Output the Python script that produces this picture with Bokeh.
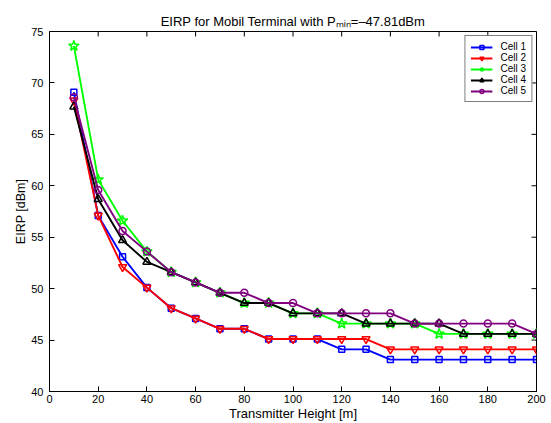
import math
from bokeh.plotting import figure
from bokeh.models import Range1d, Legend, LegendItem, FixedTicker
from bokeh.embed import file_html
from bokeh.resources import INLINE

# ---- data ----
heights = [10, 20, 30, 40, 50, 60, 70, 80, 90, 100, 110, 120, 130, 140, 150, 160, 170, 180, 190, 200]
cell1 = [69.1, 57.1, 53.1, 50.1, 48.1, 47.1, 46.1, 46.1, 45.1, 45.1, 45.1, 44.1, 44.1, 43.1, 43.1, 43.1, 43.1, 43.1, 43.1, 43.1]
cell2 = [68.3, 57.1, 52.1, 50.1, 48.1, 47.1, 46.1, 46.1, 45.1, 45.1, 45.1, 45.1, 45.1, 44.1, 44.1, 44.1, 44.1, 44.1, 44.1, 44.1]
cell3 = [73.6, 60.6, 56.6, 53.6, 51.6, 50.6, 49.6, 48.6, 48.6, 47.6, 47.6, 46.6, 46.6, 46.6, 46.6, 45.6, 45.6, 45.6, 45.6, 45.6]
cell4 = [67.7, 58.7, 54.7, 52.6, 51.6, 50.6, 49.6, 48.6, 48.6, 47.6, 47.6, 47.6, 46.6, 46.6, 46.6, 46.6, 45.6, 45.6, 45.6, 45.6]
cell5 = [68.6, 59.6, 55.6, 53.6, 51.6, 50.6, 49.6, 49.6, 48.6, 48.6, 47.6, 47.6, 47.6, 47.6, 46.6, 46.6, 46.6, 46.6, 46.6, 45.6]
series_names = ["Cell 1", "Cell 2", "Cell 3", "Cell 4", "Cell 5"]
x_ticks = [0, 20, 40, 60, 80, 100, 120, 140, 160, 180, 200]
y_ticks = [40, 45, 50, 55, 60, 65, 70, 75]
x_min, x_max = 0, 200
y_min, y_max = 40, 75
title_text = "EIRP for Mobil Terminal with P\u2098\u1d62\u2099=\u201347.81dBm"
x_label = "Transmitter Height [m]"
y_label = "EIRP [dBm]"

FONT = "Liberation Sans"

p = figure(width=551, height=423, output_backend="svg", toolbar_location=None,
           x_range=Range1d(x_min, x_max), y_range=Range1d(y_min, y_max),
           min_border_left=49, min_border_right=15, min_border_top=31, min_border_bottom=32,
           background_fill_color="white", border_fill_color="white")
p.grid.visible = False
p.outline_line_color = "black"
p.outline_line_width = 1

p.title.text = title_text
p.title.align = "center"
p.title.text_font = FONT
p.title.text_font_size = "13px"
p.title.text_font_style = "normal"
p.title.text_color = "black"
p.title.standoff = 6

def style_axis(ax, ticks, standoff):
    ax.ticker = FixedTicker(ticks=ticks)
    ax.major_tick_in = 5
    ax.major_tick_out = 0
    ax.minor_tick_in = 0
    ax.minor_tick_out = 0
    ax.axis_line_color = "black"
    ax.major_tick_line_color = "black"
    ax.major_label_text_font = FONT
    ax.major_label_text_color = "black"
    ax.major_label_text_font_size = "11px"
    ax.major_label_standoff = standoff
    ax.axis_label_text_font = FONT
    ax.axis_label_text_font_style = "normal"
    ax.axis_label_text_color = "black"

xa = p.xaxis[0]
ya = p.yaxis[0]
style_axis(xa, x_ticks, 3)
style_axis(ya, y_ticks, 6)
xa.axis_label = x_label
xa.axis_label_text_font_size = "13px"
xa.axis_label_standoff = 0
ya.axis_label = y_label
ya.axis_label_text_font_size = "12.5px"
ya.axis_label_standoff = 0

# inward ticks on the top and right edges of the box
p.ray(x=x_ticks, y=[y_max] * len(x_ticks), length=5, length_units="screen",
      angle=-math.pi / 2, line_color="black", line_width=1)
p.ray(x=[x_max] * len(y_ticks), y=y_ticks, length=5, length_units="screen",
      angle=math.pi, line_color="black", line_width=1)

styles = [
    ("#0000ff", "square", 6),
    ("#ff0000", "inverted_triangle", 8),
    ("#00ff00", "star", 11),
    ("#000000", "triangle", 8),
    ("#800080", "circle", 7),
]
all_series = [cell1, cell2, cell3, cell4, cell5]
items = []
for name, ys, (col, mk, sz) in zip(series_names, all_series, styles):
    ln = p.line(heights, ys, line_color=col, line_width=1.9)
    sc = p.scatter(heights, ys, marker=mk, size=sz, line_color=col, line_width=1.5,
                   fill_color=col, fill_alpha=0.0)
    items.append(LegendItem(label=name, renderers=[ln, sc]))

legend = Legend(items=items, location="top_right")
legend.label_text_font = FONT
legend.label_text_font_size = "10px"
legend.label_text_color = "black"
legend.label_height = 10
legend.glyph_height = 10
legend.glyph_width = 22
legend.spacing = 0
legend.padding = 5
legend.margin = 4
legend.label_standoff = 8
legend.border_line_color = "black"
legend.border_line_width = 1.5
legend.background_fill_color = "white"
legend.background_fill_alpha = 1.0
p.add_layout(legend)

open("out.html", "w").write(file_html(p, INLINE))
